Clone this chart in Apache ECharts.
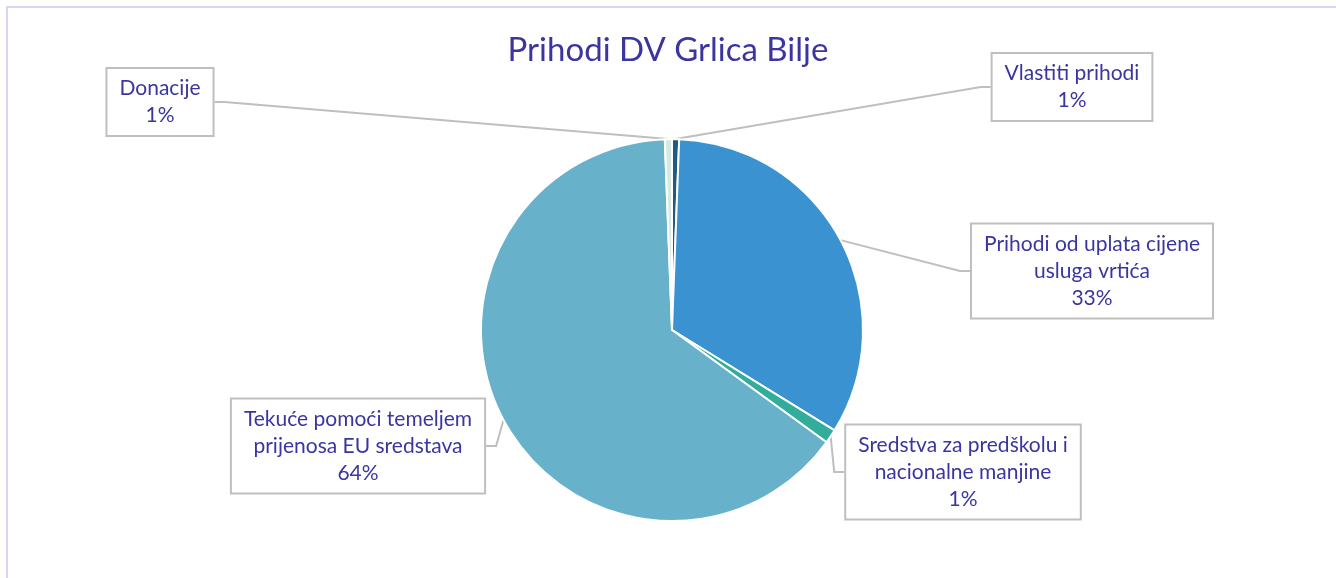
<!DOCTYPE html>
<html>
<head>
    <meta charset="utf-8">
    <title>Prihodi DV Grlica Bilje</title>
    <script src="https://cdn.jsdelivr.net/npm/echarts@6/dist/echarts.min.js"></script>
    <style>
        * { margin: 0; padding: 0; }
        body, html { background: #fff; }
        #main { width: 1336px; height: 578px; }
    </style>
</head>
<body>
<div id="main"></div>
<script>
    // podaci (udjeli u %)
    var names = ['Vlastiti prihodi', 'Prihodi od uplata cijene\nusluga vrtića', 'Sredstva za predškolu i\nnacionalne manjine', 'Tekuće pomoći temeljem\nprijenosa EU sredstava', 'Donacije'];
    var values = [0.6, 33.2, 1.2, 64.4, 0.6];
    var colors = ['#1d5b85', '#3a93d0', '#33ad9b', '#67b1ca', '#d6e9e1'];

    // pozicije oznaka (središte okvira)
    var labelPos = [[1072, 87], [1092, 271], [963, 472], [358, 446], [160, 102]];

    var chart = echarts.init(document.getElementById('main'));
    var seriesData = [];
    for (var i = 0; i < names.length; i++) {
        seriesData.push({ name: names[i], value: values[i], itemStyle: { color: colors[i] } });
    }

    var option = {
        animation: false,
        title: {
            text: 'Prihodi DV Grlica Bilje',
            left: 'center',
            top: 29,
            textStyle: { fontFamily: 'Lato', fontWeight: 'normal', fontSize: 33, color: '#3b35a0' }
        },
        graphic: [{
            type: 'rect',
            shape: { x: 7, y: 7, width: 1340, height: 590 },
            style: { fill: 'none', stroke: '#d8d4f4', lineWidth: 2 },
            silent: true
        }],
        series: [{
            type: 'pie',
            center: [672, 330],
            radius: 191,
            startAngle: 90,
            clockwise: true,
            data: seriesData,
            itemStyle: { borderColor: '#fff', borderWidth: 2 },
            label: {
                formatter: function (p) {
                    return p.name + '\n' + Math.round(p.value) + '%';
                },
                fontFamily: 'Lato',
                fontSize: 21,
                lineHeight: 27,
                color: '#3b35a0',
                backgroundColor: '#fff',
                borderColor: '#bfbfbf',
                borderWidth: 2,
                padding: [6, 12]
            },
            labelLine: {
                show: true,
                length: 10,
                length2: 10,
                lineStyle: { color: '#bfbfbf', width: 2 }
            },
            labelLayout: function (p) {
                var pos = labelPos[p.dataIndex];
                return {
                    x: pos[0],
                    y: pos[1],
                    align: 'center',
                    verticalAlign: 'middle'
                };
            }
        }]
    };
    chart.setOption(option);
</script>
</body>
</html>
